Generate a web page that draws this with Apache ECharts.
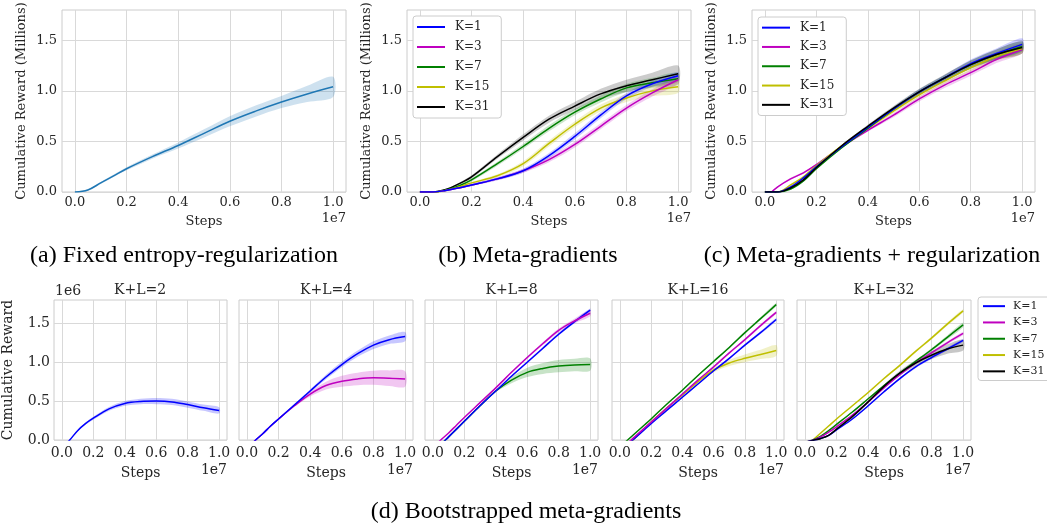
<!DOCTYPE html>
<html><head><meta charset="utf-8">
<script src="https://cdn.jsdelivr.net/npm/echarts@6/dist/echarts.min.js"></script>
<style>html,body{margin:0;padding:0;background:#fff}#c{width:1047px;height:527px}</style>
</head><body><div id="c"></div>
<script>
// ---------------- data ----------------
const steps = [0, 0.05, 0.1, 0.15, 0.2, 0.3, 0.4, 0.5, 0.6, 0.7, 0.8, 0.9, 1.0]; // x in units of 1e7
const xTicks = [0, 0.2, 0.4, 0.6, 0.8, 1.0];
const yTicks = [0, 0.5, 1.0, 1.5];
const kNames = ['K=1', 'K=3', 'K=7', 'K=15', 'K=31'];
const captionA = '(a) Fixed entropy-regularization';
const captionB = '(b) Meta-gradients';
const captionC = '(c) Meta-gradients + regularization';
const captionD = '(d) Bootstrapped meta-gradients';
const bottomTitles = ['K+L=2', 'K+L=4', 'K+L=8', 'K+L=16', 'K+L=32'];

// (a) fixed entropy regularization
const fixedMean   = [0, 0.02, 0.09, 0.16, 0.23, 0.35, 0.46, 0.58, 0.70, 0.80, 0.89, 0.97, 1.04];
const fixedSpread = [0.003, 0.008, 0.01, 0.012, 0.015, 0.02, 0.03, 0.04, 0.05, 0.055, 0.06, 0.08, 0.10];

// (b) meta-gradients
const metaK1  = [0, 0, 0.015, 0.04, 0.07, 0.13, 0.21, 0.36, 0.55, 0.76, 0.95, 1.07, 1.15];
const metaK3  = [0, 0, 0.015, 0.04, 0.07, 0.13, 0.21, 0.32, 0.47, 0.65, 0.83, 0.98, 1.11];
const metaK7  = [0, 0, 0.02, 0.06, 0.12, 0.28, 0.45, 0.63, 0.79, 0.92, 1.03, 1.08, 1.12];
const metaK15 = [0, 0, 0.015, 0.05, 0.09, 0.16, 0.28, 0.48, 0.67, 0.83, 0.93, 1.00, 1.04];
const metaK31 = [0, 0, 0.025, 0.08, 0.15, 0.35, 0.54, 0.72, 0.85, 0.97, 1.05, 1.11, 1.17];
const metaK1Spread  = [0, 0, 0.005, 0.008, 0.01, 0.015, 0.02, 0.025, 0.03, 0.03, 0.03, 0.03, 0.035];
const metaK3Spread  = [0, 0, 0.005, 0.008, 0.01, 0.015, 0.02, 0.025, 0.03, 0.03, 0.03, 0.035, 0.04];
const metaK7Spread  = [0, 0, 0.005, 0.01, 0.015, 0.02, 0.025, 0.03, 0.03, 0.035, 0.04, 0.05, 0.06];
const metaK15Spread = [0, 0, 0.005, 0.008, 0.01, 0.015, 0.025, 0.03, 0.03, 0.035, 0.04, 0.05, 0.06];
const metaK31Spread = [0, 0, 0.005, 0.01, 0.015, 0.02, 0.03, 0.035, 0.04, 0.05, 0.06, 0.07, 0.08];

// (c) meta-gradients + regularization
const regK1  = [0, 0, 0.05, 0.14, 0.25, 0.45, 0.64, 0.82, 0.99, 1.13, 1.27, 1.37, 1.46];
const regK3  = [-0.06, 0.05, 0.13, 0.19, 0.27, 0.45, 0.61, 0.76, 0.92, 1.06, 1.18, 1.31, 1.41];
const regK7  = [0, 0, 0.03, 0.11, 0.23, 0.44, 0.63, 0.82, 0.99, 1.13, 1.26, 1.36, 1.44];
const regK15 = [0, 0, 0.07, 0.15, 0.26, 0.46, 0.63, 0.80, 0.96, 1.10, 1.23, 1.34, 1.42];
const regK31 = [0, 0, 0.04, 0.12, 0.24, 0.46, 0.65, 0.83, 0.99, 1.13, 1.26, 1.36, 1.43];
const regK1Spread  = [0, 0, 0.01, 0.01, 0.01, 0.01, 0.015, 0.02, 0.025, 0.03, 0.04, 0.05, 0.06];
const regK3Spread  = [0, 0.005, 0.01, 0.01, 0.01, 0.01, 0.015, 0.02, 0.025, 0.03, 0.03, 0.035, 0.04];
const regK7Spread  = [0, 0, 0.01, 0.01, 0.01, 0.01, 0.015, 0.02, 0.025, 0.03, 0.04, 0.05, 0.05];
const regK15Spread = [0, 0, 0.01, 0.01, 0.01, 0.01, 0.015, 0.02, 0.025, 0.03, 0.035, 0.04, 0.05];
const regK31Spread = [0, 0, 0.01, 0.01, 0.01, 0.01, 0.015, 0.02, 0.03, 0.035, 0.04, 0.05, 0.06];

// (d) bootstrapped meta-gradients, K+L = 2
const kl2K1 = [-0.1, 0, 0.12, 0.21, 0.28, 0.40, 0.47, 0.495, 0.50, 0.49, 0.455, 0.415, 0.38];
const kl2K1Spread = [0, 0, 0.01, 0.015, 0.02, 0.025, 0.03, 0.035, 0.04, 0.04, 0.04, 0.04, 0.04];
// K+L = 4
const kl4K1 = [-0.11, -0.01, 0.08, 0.18, 0.27, 0.45, 0.63, 0.81, 0.97, 1.11, 1.22, 1.29, 1.33];
const kl4K3 = [-0.11, -0.01, 0.08, 0.18, 0.27, 0.44, 0.59, 0.70, 0.755, 0.785, 0.80, 0.795, 0.785];
const kl4K1Spread = [0, 0, 0.005, 0.01, 0.01, 0.015, 0.02, 0.03, 0.035, 0.04, 0.05, 0.055, 0.06];
const kl4K3Spread = [0, 0, 0.005, 0.01, 0.01, 0.015, 0.03, 0.05, 0.07, 0.08, 0.09, 0.10, 0.10];
// K+L = 8
const kl8K1 = [-0.15, -0.06, 0.04, 0.14, 0.24, 0.44, 0.63, 0.82, 1.00, 1.18, 1.36, 1.52, 1.67];
const kl8K3 = [-0.10, 0, 0.09, 0.19, 0.29, 0.48, 0.67, 0.87, 1.06, 1.24, 1.41, 1.53, 1.63];
const kl8K7 = [-0.15, -0.06, 0.04, 0.14, 0.24, 0.44, 0.63, 0.77, 0.87, 0.92, 0.95, 0.965, 0.97];
const kl8K1Spread = [0, 0, 0.003, 0.004, 0.005, 0.006, 0.008, 0.01, 0.012, 0.015, 0.018, 0.02, 0.02];
const kl8K3Spread = [0, 0, 0.003, 0.004, 0.005, 0.006, 0.008, 0.01, 0.015, 0.02, 0.025, 0.03, 0.04];
const kl8K7Spread = [0, 0, 0.005, 0.005, 0.01, 0.01, 0.015, 0.04, 0.06, 0.07, 0.08, 0.08, 0.08];
// K+L = 16
const kl16K1  = [-0.15, -0.06, 0.03, 0.12, 0.21, 0.38, 0.55, 0.72, 0.89, 1.05, 1.22, 1.38, 1.55];
const kl16K3  = [-0.13, -0.04, 0.05, 0.14, 0.23, 0.41, 0.59, 0.77, 0.94, 1.12, 1.29, 1.47, 1.64];
const kl16K7  = [-0.09, 0, 0.09, 0.18, 0.27, 0.46, 0.64, 0.83, 1.01, 1.19, 1.38, 1.56, 1.74];
const kl16K15 = [-0.15, -0.06, 0.03, 0.13, 0.23, 0.41, 0.58, 0.75, 0.90, 0.99, 1.05, 1.10, 1.15];
const kl16K1Spread  = [0, 0, 0.003, 0.004, 0.005, 0.006, 0.008, 0.01, 0.012, 0.014, 0.016, 0.018, 0.02];
const kl16K3Spread  = [0, 0, 0.003, 0.004, 0.005, 0.006, 0.008, 0.01, 0.012, 0.014, 0.016, 0.018, 0.02];
const kl16K7Spread  = [0, 0, 0.003, 0.004, 0.005, 0.006, 0.008, 0.01, 0.012, 0.014, 0.016, 0.018, 0.02];
const kl16K15Spread = [0, 0, 0.005, 0.005, 0.01, 0.01, 0.015, 0.02, 0.03, 0.04, 0.05, 0.06, 0.07];
// K+L = 32
const kl32K1  = [-0.03, -0.005, 0.02, 0.06, 0.13, 0.27, 0.44, 0.62, 0.79, 0.94, 1.06, 1.17, 1.28];
const kl32K3  = [-0.03, -0.002, 0.04, 0.10, 0.17, 0.32, 0.49, 0.67, 0.84, 0.99, 1.12, 1.25, 1.37];
const kl32K7  = [-0.03, 0, 0.05, 0.12, 0.20, 0.36, 0.53, 0.70, 0.86, 1.01, 1.16, 1.32, 1.48];
const kl32K15 = [-0.09, 0, 0.09, 0.18, 0.27, 0.44, 0.61, 0.79, 0.96, 1.14, 1.31, 1.49, 1.66];
const kl32K31 = [-0.03, -0.005, 0.02, 0.06, 0.14, 0.30, 0.49, 0.69, 0.86, 0.99, 1.09, 1.17, 1.22];
const kl32K1Spread  = [0, 0, 0.003, 0.005, 0.006, 0.008, 0.01, 0.012, 0.014, 0.016, 0.018, 0.02, 0.02];
const kl32K3Spread  = [0, 0, 0.003, 0.005, 0.006, 0.008, 0.01, 0.012, 0.014, 0.016, 0.018, 0.02, 0.02];
const kl32K7Spread  = [0, 0, 0.003, 0.005, 0.006, 0.008, 0.01, 0.012, 0.014, 0.016, 0.02, 0.025, 0.03];
const kl32K15Spread = [0, 0, 0.003, 0.005, 0.006, 0.008, 0.01, 0.012, 0.014, 0.016, 0.018, 0.02, 0.02];
const kl32K31Spread = [0, 0, 0.003, 0.005, 0.008, 0.01, 0.015, 0.02, 0.03, 0.04, 0.05, 0.06, 0.07];

// ---------------- styling ----------------
const COLORS = { 'K=1': '#0000ff', 'K=3': '#bf00bf', 'K=7': '#008000', 'K=15': '#bfbf00', 'K=31': '#000000' };
const FIXED_COLOR = '#1f77b4';
const TEXT = '#262626';
const FONT = 'DejaVu Serif';
const CAPFONT = 'Liberation Serif';
const SMOOTH = 0.35;

const topGrids = [
  { left: 62, top: 10, width: 284, height: 182 },
  { left: 407, top: 10, width: 284, height: 182 },
  { left: 752, top: 10, width: 283, height: 182 }
];
const botGrids = [
  { left: 53, top: 300, width: 174, height: 140 },
  { left: 239, top: 300, width: 174, height: 140 },
  { left: 425, top: 300, width: 173, height: 140 },
  { left: 612, top: 300, width: 172, height: 140 },
  { left: 797, top: 300, width: 174, height: 140 }
];

const grids = [], xAxes = [], yAxes = [], series = [], graphics = [];

function addGrid(g, isTop, showYLabels, yName) {
  const idx = grids.length;
  const fs = isTop ? 13 : 14;
  grids.push(Object.assign({ show: true, borderColor: '#cccccc', borderWidth: 1, backgroundColor: 'transparent' }, g));
  xAxes.push({
    type: 'value', gridIndex: idx, min: -0.05, max: 1.05,
    axisLine: { show: false },
    axisTick: { show: false, customValues: xTicks },
    axisLabel: { customValues: xTicks, formatter: v => v.toFixed(1), color: TEXT, fontFamily: FONT, fontSize: fs, margin: isTop ? 4 : 6 },
    splitLine: { show: true, lineStyle: { color: '#d9d9d9', width: 1 } },
    name: 'Steps', nameLocation: 'middle', nameGap: isTop ? 23 : 26,
    nameTextStyle: { color: TEXT, fontFamily: FONT, fontSize: fs }
  });
  yAxes.push({
    type: 'value', gridIndex: idx, min: 0, max: 1.8,
    axisLine: { show: false },
    axisTick: { show: false, customValues: yTicks },
    axisLabel: { show: showYLabels, customValues: yTicks, formatter: v => v.toFixed(1), color: TEXT, fontFamily: FONT, fontSize: fs, margin: isTop ? 5 : 4 },
    splitLine: { show: true, lineStyle: { color: '#d9d9d9', width: 1 } },
    name: yName || '', nameLocation: 'middle', nameGap: isTop ? 34 : 39,
    nameTextStyle: { color: TEXT, fontFamily: FONT, fontSize: fs }
  });
  graphics.push({ type: 'text', right: 1047 - (g.left + g.width), top: isTop ? 212 : 463,
    style: { text: '1e7', fill: TEXT, font: fs + 'px "' + FONT + '"' } });
  return idx;
}

function addCurve(gi, name, color, mean, spread, bandOpacity) {
  const lo = mean.map((m, i) => m - spread[i]);
  const hi = mean.map((m, i) => m + spread[i]);
  // confidence band drawn as one polygon through the axis scales
  series.push({
    type: 'custom', xAxisIndex: gi, yAxisIndex: gi, clip: true, silent: true, z: 1,
    data: steps.map((x, i) => [x, lo[i], hi[i]]),
    encode: { x: 0, y: [1, 2] },
    renderItem: (params, api) => {
      if (params.dataIndex !== 0) return null;
      const upper = steps.map((x, i) => api.coord([x, hi[i]]));
      const lower = steps.map((x, i) => api.coord([x, lo[i]])).reverse();
      return { type: 'polygon', shape: { points: upper.concat(lower), smooth: 0.3 },
        style: { fill: color, opacity: bandOpacity } };
    }
  });
  series.push({ type: 'line', name, xAxisIndex: gi, yAxisIndex: gi,
    data: steps.map((x, i) => [x, mean[i]]), smooth: SMOOTH, symbol: 'none',
    lineStyle: { color, width: 1.5 }, itemStyle: { color }, z: 3 });
}

// top row
const ga = addGrid(topGrids[0], true, true, 'Cumulative Reward (Millions)');
addCurve(ga, 'fixed', FIXED_COLOR, fixedMean, fixedSpread, 0.22);

const gb = addGrid(topGrids[1], true, true, 'Cumulative Reward (Millions)');
[[metaK31, metaK31Spread, 'K=31'], [metaK7, metaK7Spread, 'K=7'], [metaK15, metaK15Spread, 'K=15'],
 [metaK3, metaK3Spread, 'K=3'], [metaK1, metaK1Spread, 'K=1']].forEach(([m, s, n]) => addCurve(gb, n, COLORS[n], m, s, 0.2));

const gc = addGrid(topGrids[2], true, true, 'Cumulative Reward (Millions)');
[[regK3, regK3Spread, 'K=3'], [regK15, regK15Spread, 'K=15'], [regK7, regK7Spread, 'K=7'],
 [regK1, regK1Spread, 'K=1'], [regK31, regK31Spread, 'K=31']].forEach(([m, s, n]) => addCurve(gc, n, COLORS[n], m, s, 0.2));

// bottom row
const bottomSets = [
  [[kl2K1, kl2K1Spread, 'K=1']],
  [[kl4K3, kl4K3Spread, 'K=3'], [kl4K1, kl4K1Spread, 'K=1']],
  [[kl8K7, kl8K7Spread, 'K=7'], [kl8K1, kl8K1Spread, 'K=1'], [kl8K3, kl8K3Spread, 'K=3']],
  [[kl16K15, kl16K15Spread, 'K=15'], [kl16K1, kl16K1Spread, 'K=1'], [kl16K3, kl16K3Spread, 'K=3'], [kl16K7, kl16K7Spread, 'K=7']],
  [[kl32K15, kl32K15Spread, 'K=15'], [kl32K7, kl32K7Spread, 'K=7'], [kl32K3, kl32K3Spread, 'K=3'], [kl32K1, kl32K1Spread, 'K=1'], [kl32K31, kl32K31Spread, 'K=31']]
];
botGrids.forEach((g, i) => {
  const gi = addGrid(g, false, i === 0, i === 0 ? 'Cumulative Reward' : '');
  bottomSets[i].forEach(([m, s, n]) => addCurve(gi, n, COLORS[n], m, s, 0.22));
  graphics.push({ type: 'text', x: g.left + g.width / 2, y: 290,
    style: { text: bottomTitles[i], fill: TEXT, font: '14px "' + FONT + '"', textAlign: 'center', textVerticalAlign: 'middle' } });
});
graphics.push({ type: 'text', x: 55, y: 291,
  style: { text: '1e6', fill: TEXT, font: '14px "' + FONT + '"', textAlign: 'left', textVerticalAlign: 'middle' } });

// captions
[[captionA, 184, 256], [captionB, 528, 256], [captionC, 872, 256], [captionD, 526, 512]].forEach(([t, x, y]) => {
  graphics.push({ type: 'text', x, y,
    style: { text: t, fill: '#000', font: '24px "' + CAPFONT + '"', textAlign: 'center', textVerticalAlign: 'middle' } });
});

const legendBase = {
  orient: 'vertical', data: kNames, icon: 'rect', itemHeight: 2, itemGap: 0,
  backgroundColor: '#ffffff', borderColor: '#cccccc', borderWidth: 1, borderRadius: 3,
  selectedMode: false
};
const legends = [
  Object.assign({}, legendBase, { left: 413, top: 16, itemWidth: 28, padding: [1, 12, 1, 4],
    textStyle: { fontFamily: FONT, fontSize: 12, color: TEXT, lineHeight: 20, padding: [0, 0, 0, 5] } }),
  Object.assign({}, legendBase, { left: 758, top: 17, itemWidth: 28, padding: [1, 12, 1, 4],
    textStyle: { fontFamily: FONT, fontSize: 12, color: TEXT, lineHeight: 19.3, padding: [0, 0, 0, 5] } }),
  Object.assign({}, legendBase, { left: 978, top: 297, itemWidth: 22, padding: [1, 6, 1, 5],
    textStyle: { fontFamily: FONT, fontSize: 11, color: TEXT, lineHeight: 16.3, padding: [0, 0, 0, 3] } })
];

const chart = echarts.init(document.getElementById('c'), null, { renderer: 'canvas' });
chart.setOption({
  animation: false,
  backgroundColor: '#ffffff',
  grid: grids, xAxis: xAxes, yAxis: yAxes, series, legend: legends, graphic: graphics
});
</script></body></html>
